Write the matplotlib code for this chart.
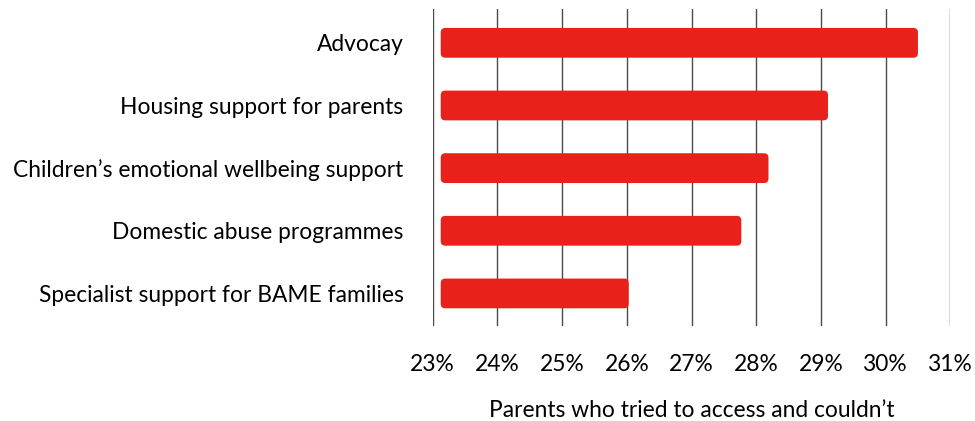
import matplotlib
matplotlib.use("Agg")
import matplotlib.pyplot as plt
from matplotlib.patches import FancyBboxPatch

categories = ["Advocay", "Housing support for parents", "Children’s emotional wellbeing support",
              "Domestic abuse programmes", "Specialist support for BAME families"]
values = [30.50, 29.11, 28.19, 27.77, 26.03]
xticks = [23, 24, 25, 26, 27, 28, 29, 30, 31]
xticklabels = ["23%", "24%", "25%", "26%", "27%", "28%", "29%", "30%", "31%"]
xlabel = "Parents who tried to access and couldn’t"

plt.rcParams['font.family'] = ['Lato', 'DejaVu Sans']

W, H = 975, 421
fig = plt.figure(figsize=(W / 100, H / 100), dpi=100)
left_px, right_px, top_px, bottom_px = 432.7, 950.3, 9, 326
ax = fig.add_axes([left_px / W, 1 - bottom_px / H, (right_px - left_px) / W, (bottom_px - top_px) / H])

xmin, xmax = 23, 31
ymin, ymax = 4.52, -0.54
ax.set_xlim(xmin, xmax)
ax.set_ylim(ymin, ymax)

px_per_x = (right_px - left_px) / (xmax - xmin)
px_per_y = (bottom_px - top_px) / (ymin - ymax)
aspect = px_per_x / px_per_y

bar_start = 23.124
bar_h = 0.475
color = '#E8211A'
for i, v in enumerate(values):
    p = FancyBboxPatch((bar_start, i - bar_h / 2), v - bar_start, bar_h,
                       boxstyle="round,pad=0,rounding_size=0.07",
                       mutation_aspect=aspect,
                       facecolor=color, edgecolor='none', zorder=3)
    ax.add_patch(p)

for x in xticks:
    ax.axvline(x, color='#4a4a4a', lw=1.0, zorder=1)

fs = 16.4
ax.set_xticks(xticks)
ax.set_xticklabels(xticklabels, fontsize=fs)
ax.set_yticks(range(len(categories)))
ax.set_yticklabels(categories, fontsize=fs)
ax.tick_params(axis='both', length=0)
ax.tick_params(axis='x', pad=20)
ax.tick_params(axis='y', pad=21)
for s in ax.spines.values():
    s.set_visible(False)
ax.set_xlabel(xlabel, fontsize=fs, labelpad=18)

fig.savefig("out.png", dpi=100)
